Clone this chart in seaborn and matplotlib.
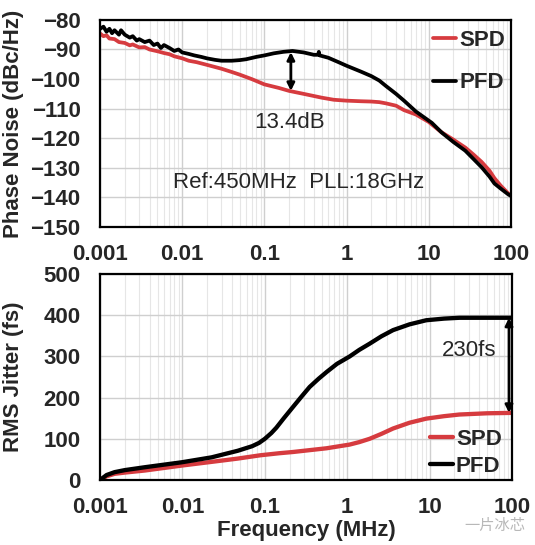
import matplotlib
matplotlib.use("Agg")
import matplotlib.pyplot as plt
import seaborn as sns
import pandas as pd
from matplotlib.ticker import FixedLocator, LogLocator, NullFormatter

# phase noise (dBc/Hz) vs offset frequency (MHz)
pn_spd_freq = [0.001, 0.0011, 0.0012, 0.0013, 0.0015, 0.0017, 0.002, 0.0023, 0.0025, 0.003,
               0.0035, 0.004, 0.005, 0.006, 0.007, 0.008, 0.01, 0.012, 0.015, 0.02,
               0.03, 0.04, 0.05, 0.07, 0.1, 0.15, 0.2, 0.3, 0.5, 0.7,
               1, 1.5, 2, 2.5, 3, 4, 5, 7, 10, 14,
               20, 28, 35, 44, 55, 63, 75, 93, 100]
pn_spd = [-84.6, -85.5, -85.2, -86.3, -86.5, -87.5, -87.8, -88.6, -88.3, -89.3,
          -89.2, -90.0, -90.6, -91.2, -91.6, -92.3, -93.0, -93.8, -94.3, -95.2,
          -96.5, -97.6, -98.5, -100.0, -101.8, -103.0, -104.0, -105.0, -106.3, -107.0,
          -107.3, -107.5, -107.6, -107.8, -108.2, -109.0, -110.5, -112.0, -114.5, -117.8,
          -120.5, -123.2, -125.5, -128.0, -131.0, -133.5, -136.0, -138.7, -139.0]

pn_pfd_freq = [0.001, 0.0011, 0.0012, 0.0013, 0.0014, 0.0015, 0.0017, 0.0018, 0.002, 0.0023,
               0.0025, 0.0028, 0.003, 0.0035, 0.004, 0.0045, 0.005, 0.0055, 0.006, 0.007,
               0.008, 0.009, 0.01, 0.012, 0.014, 0.017, 0.02, 0.025, 0.03, 0.04,
               0.05, 0.06, 0.08, 0.1, 0.13, 0.17, 0.22, 0.3, 0.4, 0.45,
               0.46, 0.47, 0.6, 0.8, 1.0, 1.5, 2, 2.5, 3, 4,
               5, 7, 10.9, 14.4, 20, 27.8, 35, 44, 55, 63,
               75, 93, 100]
pn_pfd = [-83.0, -82.3, -84.0, -83.0, -84.5, -83.5, -85.0, -83.5, -85.0, -86.0,
          -85.5, -87.0, -86.5, -87.5, -87.0, -88.5, -88.0, -89.5, -88.5, -89.5,
          -90.5, -90.0, -91.0, -91.5, -92.0, -92.5, -93.0, -93.5, -93.8, -93.8,
          -93.6, -93.3, -92.5, -92.0, -91.3, -90.8, -90.5, -91.0, -91.8, -91.8,
          -90.8, -92.0, -92.8, -94.3, -95.5, -97.5, -99.0, -100.5, -102.3, -105.0,
          -107.3, -111.0, -114.8, -118.1, -121.3, -124.2, -127.0, -129.8, -133.0, -135.3,
          -137.0, -139.0, -139.5]

# integrated RMS jitter (fs) vs upper integration frequency (MHz)
jit_spd_freq = [0.001, 0.0012, 0.0015, 0.002, 0.0035, 0.0098, 0.0226, 0.047, 0.088, 0.15,
                0.22, 0.3, 0.56, 1.07, 1.4, 1.87, 2.6, 3.6, 5.7, 9.1,
                15, 23, 50, 100]
jit_spd = [0, 9, 15, 18, 23, 35, 44, 52, 60, 65,
           68, 71, 77, 86, 92, 100, 112, 125, 139, 149,
           155, 159, 162, 163]

jit_pfd_freq = [0.001, 0.0012, 0.0015, 0.002, 0.0035, 0.0098, 0.0226, 0.047, 0.07, 0.085,
                0.1, 0.12, 0.138, 0.17, 0.219, 0.28, 0.35, 0.45, 0.56, 0.75,
                1.07, 1.4, 1.87, 2.6, 3.6, 5.7, 9.1, 15, 23, 50,
                100]
jit_pfd = [0, 12, 19, 24, 31, 43, 55, 71, 82, 90,
           100, 114, 127, 150, 177, 203, 226, 246, 262, 282,
           300, 316, 331, 349, 364, 378, 388, 392, 394, 394,
           394]

series_order = ["SPD", "PFD"]
palette = {"SPD": "#d63b3f", "PFD": "#000000"}
decades = [0.001, 0.01, 0.1, 1, 10, 100]
decade_labels = ["0.001", "0.01", "0.1", "1", "10", "100"]

pn_df = pd.concat([
    pd.DataFrame({"freq": pn_spd_freq, "val": pn_spd, "curve": "SPD"}),
    pd.DataFrame({"freq": pn_pfd_freq, "val": pn_pfd, "curve": "PFD"}),
])
jit_df = pd.concat([
    pd.DataFrame({"freq": jit_spd_freq, "val": jit_spd, "curve": "SPD"}),
    pd.DataFrame({"freq": jit_pfd_freq, "val": jit_pfd, "curve": "PFD"}),
])

sns.set_style("whitegrid")
plt.rcParams["font.family"] = ["Liberation Sans", "DejaVu Sans"]

fig = plt.figure(figsize=(5.35, 5.45), dpi=100)
ax1 = fig.add_axes([0.187, 0.5835, 0.768, 0.380])
ax2 = fig.add_axes([0.187, 0.1193, 0.770, 0.3777])

sns.lineplot(data=pn_df, x="freq", y="val", hue="curve", hue_order=series_order,
             palette=palette, estimator=None, linewidth=2.7, ax=ax1)
sns.lineplot(data=jit_df, x="freq", y="val", hue="curve", hue_order=series_order,
             palette=palette, estimator=None, linewidth=3.1, ax=ax2)


def style_axes(ax, ylo, yhi, ystep):
    ax.set_xscale("log")
    ax.set_xlim(0.001, 100)
    ax.set_ylim(ylo, yhi)
    ax.xaxis.set_major_locator(FixedLocator(decades))
    ax.set_xticklabels(decade_labels)
    ax.xaxis.set_minor_locator(LogLocator(base=10, subs=range(2, 10)))
    ax.xaxis.set_minor_formatter(NullFormatter())
    ax.set_yticks(range(ylo, yhi + 1, ystep))
    ax.grid(which="major", color="#cfcfcf", linewidth=1.0)
    ax.grid(which="minor", axis="x", color="#e6e6e6", linewidth=0.8)
    ax.tick_params(which="both", length=0)
    ax.tick_params(axis="x", pad=12)
    ax.tick_params(axis="y", pad=14)
    for lab in ax.get_xticklabels() + ax.get_yticklabels():
        lab.set_fontsize(16)
        lab.set_fontweight("bold")
    for sp in ax.spines.values():
        sp.set_color("black")
        sp.set_linewidth(1.6)
    ax.set_xlabel("")


style_axes(ax1, -150, -80, 10)
style_axes(ax2, 0, 500, 100)

ax1.set_ylabel("Phase Noise (dBc/Hz)", fontsize=16, fontweight="bold", labelpad=6)
ax2.set_ylabel("RMS Jitter (fs)", fontsize=16, fontweight="bold", labelpad=6)
ax2.set_xlabel("Frequency (MHz)", fontsize=16, fontweight="bold", labelpad=2)
ax1.yaxis.set_label_coords(-0.185, 0.5)
ax2.yaxis.set_label_coords(-0.185, 0.5)

leg_font = {"size": 16, "weight": "bold"}
h, l = ax1.get_legend_handles_labels()
ax1.legend(h, l, loc="upper right", bbox_to_anchor=(0.985, 0.95), frameon=False,
           prop=leg_font, handlelength=1.0, handletextpad=0.15, labelspacing=0.95,
           borderpad=0, borderaxespad=0)
h, l = ax2.get_legend_handles_labels()
ax2.legend(h, l, loc="upper right", bbox_to_anchor=(0.975, 0.25), frameon=False,
           prop=leg_font, handlelength=1.0, handletextpad=0.15, labelspacing=0.3,
           borderpad=0, borderaxespad=0)

arrow = dict(arrowstyle="<|-|>", color="black", lw=2.0, mutation_scale=11,
             shrinkA=0, shrinkB=0)
ax1.annotate("", xy=(0.21, -90.9), xytext=(0.21, -104.0), arrowprops=arrow)
ax1.text(0.2, -114.8, "13.4dB", fontsize=16, ha="center", va="center")
ax1.text(0.26, -135, "Ref:450MHz  PLL:18GHz", fontsize=16, ha="center", va="center")

ax2.annotate("", xy=(92, 394), xytext=(92, 163), arrowprops=arrow)
ax2.text(30, 315, "230fs", fontsize=16, ha="center", va="center")

# watermark in the bottom right corner
fig.text(0.925, 0.036, "一片冰芯", fontsize=11, color="#b8b8b8", ha="center", va="center",
         family=["Noto Sans CJK SC", "DejaVu Sans"])

fig.savefig("out.png", dpi=100)
